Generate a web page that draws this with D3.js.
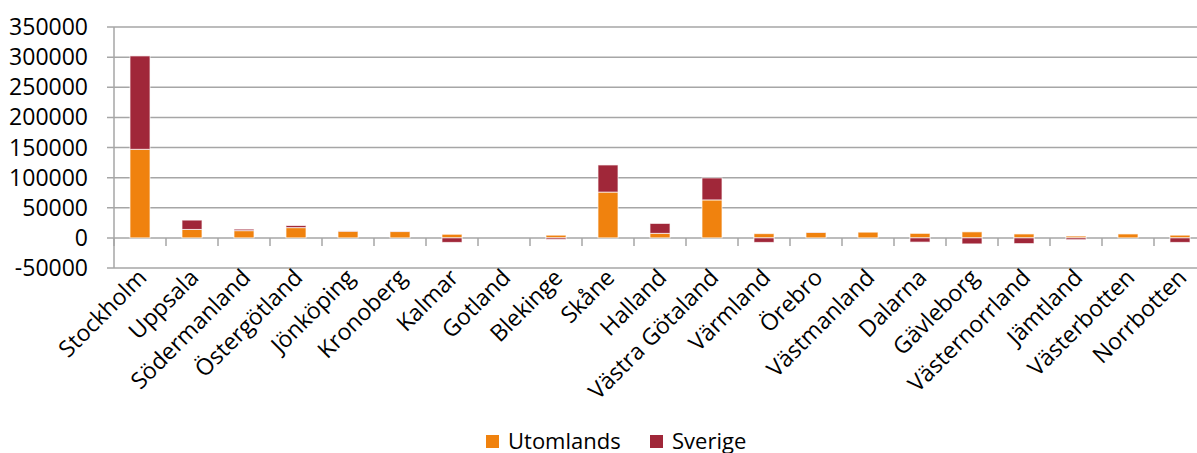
<!DOCTYPE html>
<html>
<head>
<meta charset="utf-8">
<script src="https://cdn.jsdelivr.net/npm/d3@7"></script>
<style>
  body { margin: 0; background: #fff; }
  svg { display: block; font-family: "Open Sans", sans-serif; }
</style>
</head>
<body>
<div id="chart"></div>
<script>
// lan (counties), values
var regions = ["Stockholm", "Uppsala", "Södermanland", "Östergötland", "Jönköping", "Kronoberg",
  "Kalmar", "Gotland", "Blekinge", "Skåne", "Halland", "Västra Götaland", "Värmland", "Örebro",
  "Västmanland", "Dalarna", "Gävleborg", "Västernorrland", "Jämtland", "Västerbotten", "Norrbotten"];
var utomlands = [147000, 14000, 12000, 17000, 11000, 10500, 6000, 0, 4500, 76000, 7500, 63000,
  7000, 9000, 9500, 7500, 10000, 6500, 3000, 6500, 4500];
var sverige = [155000, 15500, 2500, 3500, 500, 500, -7500, 0, -2500, 45000, 16500, 36500,
  -7500, 500, 0, -7000, -10000, -9500, -3000, 0, -7500];
var seriesNames = ["Utomlands", "Sverige"];
var colors = ["#F0820E", "#A02739"];
var yTicks = [-50000, 0, 50000, 100000, 150000, 200000, 250000, 300000, 350000];

var W = 1197, H = 453;
var mLeft = 114, mTop = 27, mBottom = 268;
var band = 52;

var svg = d3.select("#chart").append("svg").attr("width", W).attr("height", H);

var x = d3.scaleBand().domain(regions).range([mLeft, mLeft + band * regions.length]).paddingInner(0.615).paddingOuter(0.3075);
var y = d3.scaleLinear().domain([-50000, 350000]).range([mBottom, mTop]);

//gridlines + y labels
svg.append("g").selectAll("line").data(yTicks).enter().append("line")
  .attr("x1", mLeft - 7).attr("x2", W)
  .attr("y1", function(d) { return y(d); }).attr("y2", function(d) { return y(d); })
  .attr("stroke", "#a6a6a6").attr("stroke-width", 1.5);

svg.append("g").selectAll("text").data(yTicks).enter().append("text")
  .attr("x", 88).attr("y", function(d) { return y(d); })
  .attr("dy", "0.35em").attr("text-anchor", "end")
  .attr("font-size", 23).attr("fill", "#000")
  .text(function(d) { return d; });

// vertical axis
svg.append("line").attr("x1", mLeft).attr("x2", mLeft).attr("y1", mTop).attr("y2", mBottom)
  .attr("stroke", "#a6a6a6").attr("stroke-width", 1.5);

// category ticks on zero line
svg.append("g").selectAll("line").data(d3.range(regions.length + 1)).enter().append("line")
  .attr("x1", function(i) { return mLeft + i * band; }).attr("x2", function(i) { return mLeft + i * band; })
  .attr("y1", y(0)).attr("y2", y(0) + 8)
  .attr("stroke", "#a6a6a6").attr("stroke-width", 1.5);

// stacked bars
var rows = regions.map(function(r, i) { return { region: r, Utomlands: utomlands[i], Sverige: sverige[i] }; });
var stacked = d3.stack().keys(seriesNames).offset(d3.stackOffsetDiverging)(rows);

svg.append("g").selectAll("g").data(stacked).enter().append("g")
  .attr("fill", function(d, i) { return colors[i]; })
  .selectAll("rect").data(function(d) { return d; }).enter().append("rect")
  .attr("x", function(d) { return x(d.data.region); })
  .attr("width", x.bandwidth())
  .attr("y", function(d) { return y(Math.max(d[0], d[1])); })
  .attr("height", function(d) { return Math.abs(y(d[0]) - y(d[1])); })
  .attr("stroke", "rgba(255,255,255,0.7)").attr("stroke-width", 1)
  .style("display", function(d) { return d[0] == d[1] ? "none" : null; });

// category labels
svg.append("g").selectAll("text").data(regions).enter().append("text")
  .attr("transform", function(d) { return "translate(" + (x(d) + x.bandwidth() / 2 + 8) + ",279) rotate(-45)"; })
  .attr("text-anchor", "end").attr("font-size", 23).attr("fill", "#000")
  .text(function(d) { return d; });

// legend
var legend = svg.append("g");
var lx = [486, 650];
seriesNames.forEach(function(s, i) {
  legend.append("rect").attr("x", lx[i]).attr("y", 435).attr("width", 13).attr("height", 13).attr("fill", colors[i]);
  legend.append("text").attr("x", lx[i] + 22).attr("y", 449).attr("font-size", 22).attr("fill", "#000").text(s);
});
</script>
</body>
</html>
